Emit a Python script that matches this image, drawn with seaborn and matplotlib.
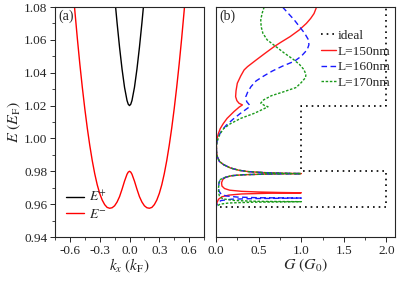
import numpy as np
import pandas as pd
import matplotlib
matplotlib.use("Agg")
import matplotlib.pyplot as plt
import seaborn as sns

# ---------------- data ----------------
# panel (a): band dispersion
k_pos_minus = [0.0, 0.0125, 0.025, 0.05, 0.075, 0.1, 0.125, 0.15, 0.175, 0.2, 0.225,
               0.25, 0.275, 0.3, 0.325, 0.35, 0.375, 0.4, 0.425, 0.45, 0.475, 0.5,
               0.525, 0.55, 0.575]
E_minus_pos = [0.9800, 0.9795, 0.9782, 0.9740, 0.9691, 0.9646, 0.9613, 0.9590, 0.9578,
               0.9575, 0.9580, 0.9597, 0.9625, 0.9665, 0.9718, 0.9785, 0.9865, 0.9958,
               1.0063, 1.0181, 1.0311, 1.0453, 1.0608, 1.0775, 1.0955]
k_pos_plus = [0.0, 0.0125, 0.025, 0.05, 0.075, 0.1, 0.125, 0.14, 0.15]
E_plus_pos = [1.0200, 1.0208, 1.0231, 1.0311, 1.0422, 1.0554, 1.0703, 1.0800, 1.0868]

# panel (b): conductance vs energy
E_ideal = [0.940, 0.958, 0.958, 0.980, 0.980, 1.020, 1.020, 1.080]
G_ideal = [0.0, 0.0, 2.0, 2.0, 1.0, 1.0, 2.0, 2.0]

E_common = [0.996, 0.992, 0.989, 0.986, 0.984, 0.982, 0.9806, 0.9798, 0.9792, 0.9788,
            0.9786, 0.9783, 0.9779, 0.9773, 0.9763]
G_common = [0.005, 0.006, 0.015, 0.04, 0.09, 0.17, 0.27, 0.38, 0.56, 0.80,
            1.00, 0.60, 0.32, 0.18, 0.11]

E_150_top = [1.080, 1.076, 1.073, 1.070, 1.066, 1.062, 1.0585, 1.0558, 1.052, 1.0477,
             1.0437, 1.0417, 1.038, 1.0336, 1.029, 1.0254, 1.023, 1.0214, 1.0204, 1.019,
             1.0163, 1.0122, 1.009, 1.006, 1.003, 1.000]
G_150_top = [1.18, 1.15, 1.11, 1.06, 0.976, 0.87, 0.76, 0.68, 0.58, 0.47,
             0.37, 0.33, 0.29, 0.25, 0.235, 0.23, 0.245, 0.27, 0.31, 0.27,
             0.21, 0.13, 0.085, 0.05, 0.028, 0.013]
E_150_low = [0.975, 0.973, 0.971, 0.9695, 0.9685, 0.9678, 0.9674, 0.9671, 0.9669,
             0.9666, 0.9662, 0.9655, 0.9645, 0.963, 0.961, 0.958, 0.940]
G_150_low = [0.08, 0.065, 0.07, 0.10, 0.16, 0.30, 0.50, 0.75, 1.00,
             0.60, 0.30, 0.15, 0.07, 0.03, 0.012, 0.0, 0.0]

E_160_top = [1.080, 1.076, 1.072, 1.068, 1.064, 1.060, 1.057, 1.054, 1.050, 1.047,
             1.044, 1.041, 1.038, 1.035, 1.0315, 1.028, 1.0254, 1.0224, 1.0205, 1.0195,
             1.018, 1.015, 1.0117, 1.008, 1.005, 1.002, 0.999]
G_160_top = [0.78, 0.85, 0.92, 0.98, 1.04, 1.085, 1.09, 1.07, 1.00, 0.92,
             0.78, 0.66, 0.56, 0.47, 0.41, 0.37, 0.35, 0.36, 0.39, 0.40,
             0.36, 0.28, 0.20, 0.12, 0.07, 0.035, 0.015]
E_160_low = [0.975, 0.973, 0.970, 0.968, 0.966, 0.9650, 0.9643, 0.9639, 0.9637,
             0.9634, 0.9630, 0.9622, 0.961, 0.958, 0.940]
G_160_low = [0.05, 0.035, 0.03, 0.035, 0.06, 0.12, 0.25, 0.50, 1.00,
             0.45, 0.18, 0.06, 0.02, 0.0, 0.0]

E_170_top = [1.080, 1.076, 1.072, 1.068, 1.064, 1.060, 1.056, 1.052, 1.048, 1.045,
             1.042, 1.039, 1.037, 1.034, 1.031, 1.0285, 1.026, 1.0235, 1.0215, 1.0200,
             1.0193, 1.018, 1.0153, 1.0122, 1.009, 1.006, 1.003, 1.000]
G_170_top = [0.565, 0.54, 0.525, 0.53, 0.55, 0.60, 0.70, 0.80, 0.91, 0.98,
             1.03, 1.055, 1.05, 1.00, 0.94, 0.80, 0.65, 0.56, 0.525, 0.57,
             0.61, 0.56, 0.45, 0.29, 0.17, 0.09, 0.05, 0.025]
E_170_low = [0.975, 0.973, 0.970, 0.967, 0.965, 0.9632, 0.9622, 0.9617, 0.9615,
             0.9612, 0.9607, 0.960, 0.959, 0.958, 0.940]
G_170_low = [0.05, 0.035, 0.03, 0.03, 0.04, 0.08, 0.22, 0.50, 1.00,
             0.45, 0.15, 0.05, 0.015, 0.0, 0.0]

xticks_a = [-0.6, -0.3, 0.0, 0.3, 0.6]
yticks = [0.94, 0.96, 0.98, 1.00, 1.02, 1.04, 1.06, 1.08]
xticks_b = [0.0, 0.5, 1.0, 1.5, 2.0]

# ---------------- style ----------------
sns.set_style("ticks")
plt.rcParams["font.family"] = ["Liberation Serif", "DejaVu Serif"]
plt.rcParams["mathtext.fontset"] = "stix"
plt.rcParams["font.size"] = 9.5
plt.rcParams["axes.linewidth"] = 0.8
plt.rcParams["xtick.direction"] = "out"
plt.rcParams["ytick.direction"] = "out"

fig = plt.figure(figsize=(3.99, 2.81), dpi=100)
axa = fig.add_axes([55 / 399, 44 / 281, 149 / 399, 230 / 281])
axb = fig.add_axes([216 / 399, 44 / 281, 179 / 399, 230 / 281])

# ---- panel (a)
k_minus = [-k for k in k_pos_minus[::-1]] + k_pos_minus[1:]
E_minus = E_minus_pos[::-1] + E_minus_pos[1:]
k_plus = [-k for k in k_pos_plus[::-1]] + k_pos_plus[1:]
E_plus = E_plus_pos[::-1] + E_plus_pos[1:]

sns.lineplot(x=k_plus, y=E_plus, sort=False, estimator=None, ax=axa,
             color="black", lw=1.0, label=r"$E^{+}$")
sns.lineplot(x=k_minus, y=E_minus, sort=False, estimator=None, ax=axa,
             color="#ff0000", lw=1.0, label=r"$E^{-}$")
axa.set_xlim(-0.75, 0.75)
axa.set_ylim(0.94, 1.08)
axa.set_xticks(xticks_a)
axa.set_xticklabels(["-0.6", "-0.3", "0.0", "0.3", "0.6"])
axa.set_yticks(yticks)
axa.set_yticklabels([f"{v:.2f}" for v in yticks])
axa.set_xticks([-0.45, -0.15, 0.15, 0.45, -0.75, 0.75], minor=True)
axa.set_yticks([0.95, 0.97, 0.99, 1.01, 1.03, 1.05, 1.07], minor=True)
axa.set_xlabel(r"$k_x\ (k_\mathrm{F})$", fontsize=11, labelpad=0)
axa.set_ylabel(r"$E\ (E_\mathrm{F})$", fontsize=11.5, labelpad=1)
axa.text(0.02, 0.99, "(a)", transform=axa.transAxes, ha="left", va="top", fontsize=10)
axa.legend(loc="lower left", bbox_to_anchor=(0.03, 0.04), frameon=False,
           handlelength=1.3, handletextpad=0.3, labelspacing=0.25, borderpad=0,
           fontsize=10)

# ---- panel (b)
sns.lineplot(x=G_ideal, y=E_ideal, sort=False, estimator=None, ax=axb,
             color="black", lw=1.2, linestyle=(0, (1, 2.4)), label="ideal")
curves = [
    ("L=150nm", G_150_top + G_common + G_150_low, E_150_top + E_common + E_150_low,
     "#ff1a1a", "-"),
    ("L=160nm", G_160_top + G_common + G_160_low, E_160_top + E_common + E_160_low,
     "#1a1aff", (0, (4, 2.5))),
    ("L=170nm", G_170_top + G_common + G_170_low, E_170_top + E_common + E_170_low,
     "#1a9a1a", (0, (1.8, 1.2))),
]
for lab, G, E, col, ls in curves:
    sns.lineplot(x=G, y=E, sort=False, estimator=None, ax=axb,
                 color=col, lw=1.0, linestyle=ls, label=lab)
axb.set_xlim(0, 2.1)
axb.set_ylim(0.94, 1.08)
axb.set_xticks(xticks_b)
axb.set_xticklabels(["0.0", "0.5", "1.0", "1.5", "2.0"])
axb.set_xticks([0.25, 0.75, 1.25, 1.75], minor=True)
axb.set_yticks([])
axb.set_xlabel(r"$G\ (G_0)$", fontsize=11.5, labelpad=0)
axb.set_ylabel("")
axb.text(0.02, 0.99, "(b)", transform=axb.transAxes, ha="left", va="top", fontsize=10)
axb.legend(loc="upper left", bbox_to_anchor=(0.55, 0.93), frameon=False,
           handlelength=1.1, handletextpad=0.15, labelspacing=0.25, borderpad=0,
           fontsize=9.6)

for ax in (axa, axb):
    for s in ax.spines.values():
        s.set_visible(True)
        s.set_linewidth(0.8)
    ax.tick_params(which="major", length=3.5, width=0.7, pad=2)
    ax.tick_params(which="minor", length=2, width=0.6)

fig.savefig("out.png", dpi=100)
